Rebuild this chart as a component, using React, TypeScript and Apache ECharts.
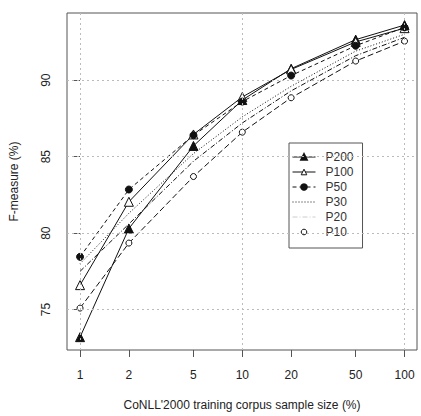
import React, { useEffect, useRef } from 'react';
import * as echarts from 'echarts';

const xPct = [1, 2, 5, 10, 20, 50, 100];
const xGridPct = [1, 10, 100];
const yTicks = [75, 80, 85, 90];

const p200 = [73.2, 80.3, 85.7, 88.7, 90.75, 92.65, 93.6];
const p100 = [76.6, 82.05, 86.45, 88.9, 90.7, 92.5, 93.4];
const p50 = [78.45, 82.85, 86.4, 88.6, 90.3, 92.25, 93.45];
const p30 = [78.0, 81.3, 85.2, 87.6, 89.6, 91.9, 93.0];
const p20 = [77.5, 80.6, 84.7, 87.2, 89.3, 91.6, 92.8];
const p10 = [75.1, 79.35, 83.7, 86.6, 88.85, 91.25, 92.55];

const xTitle = "CoNLL'2000 training corpus sample size (%)";
const yTitle = 'F-measure (%)';

export default function App() {
  const ref = useRef<HTMLDivElement>(null);
  useEffect(() => {
    const chart = echarts.init(ref.current!, null, { renderer: 'svg' });
    const font = "'Liberation Sans', Arial, sans-serif";
    const ink = '#111';
    const toPts = (arr: number[]) => xPct.map((x, i) => [Math.log10(x), arr[i]]);
    const xTickVals = xPct.map((v) => Math.log10(v));
    const mk = (
      name: string,
      arr: number[],
      symbol: string,
      size: number,
      fill: string,
      type: any,
      show = true
    ) => ({
      name,
      type: 'line',
      data: toPts(arr),
      symbol,
      symbolSize: size,
      showSymbol: show,
      lineStyle: { color: ink, width: 1, type },
      itemStyle: { color: fill, borderColor: ink, borderWidth: 1 },
      emphasis: { disabled: true },
      z: 3,
    });
    const openItem = { color: '#fff', borderColor: ink, borderWidth: 1 };
    const option: any = {
      animation: false,
      backgroundColor: '#fff',
      textStyle: { fontFamily: font },
      grid: {
        left: 60,
        top: 13,
        right: 4,
        bottom: 61,
        show: true,
        borderColor: '#555',
        borderWidth: 1,
        backgroundColor: 'transparent',
      },
      xAxis: {
        type: 'value',
        min: -0.0804,
        max: 2.0767,
        axisLine: { show: false },
        splitLine: { show: false },
        axisTick: { show: true, customValues: xTickVals, length: 7, lineStyle: { color: '#555' } },
        axisLabel: {
          customValues: xTickVals,
          formatter: (v: number) => String(Math.round(Math.pow(10, v))),
          margin: 19,
          fontSize: 12,
          color: '#222',
          fontFamily: font,
        },
        name: xTitle,
        nameLocation: 'middle',
        nameGap: 49,
        nameTextStyle: { fontSize: 12, color: '#222', fontFamily: font },
      },
      yAxis: {
        type: 'value',
        min: 72.36,
        max: 94.39,
        axisLine: { show: false },
        splitLine: { show: false },
        axisTick: { show: true, customValues: yTicks, length: 7, lineStyle: { color: '#555' } },
        axisLabel: {
          customValues: yTicks,
          rotate: 90,
          margin: 15,
          fontSize: 12,
          color: '#222',
          fontFamily: font,
        },
        name: yTitle,
        nameLocation: 'middle',
        nameGap: 47,
        nameTextStyle: { fontSize: 12, color: '#222', fontFamily: font },
      },
      legend: {
        orient: 'vertical',
        left: 289,
        top: 143,
        padding: [8, 9, 10, 3],
        itemGap: 3,
        itemWidth: 23,
        itemHeight: 7,
        borderColor: '#555',
        borderWidth: 1,
        backgroundColor: '#fff',
        lineStyle: { width: 1, type: 'inherit' },
        textStyle: { fontSize: 12, color: '#333', fontFamily: font, padding: [0, 0, 0, 5] },
        data: [
          { name: 'P200' },
          { name: 'P100', itemStyle: openItem },
          { name: 'P50' },
          { name: 'P30', itemStyle: { opacity: 0 } },
          { name: 'P20', itemStyle: { opacity: 0 }, lineStyle: { color: '#ccc', width: 1 } },
          { name: 'P10', itemStyle: openItem, lineStyle: { opacity: 0 } },
        ],
      },
      series: [
        {
          name: 'grid',
          type: 'line',
          data: [],
          silent: true,
          z: 1,
          markLine: {
            silent: true,
            symbol: ['none', 'none'],
            label: { show: false },
            emphasis: { disabled: true },
            lineStyle: { type: [2, 3], color: '#bbb', width: 1 },
            data: [
              ...xGridPct.map((v) => ({ xAxis: Math.log10(v) })),
              ...yTicks.map((v) => ({ yAxis: v })),
            ],
          },
        },
        mk('P200', p200, 'triangle', 9, ink, 'solid'),
        mk('P100', p100, 'triangle', 9, '#fff', 'solid'),
        mk('P50', p50, 'circle', 7, ink, [4, 3]),
        mk('P30', p30, 'circle', 0, ink, [1, 2], false),
        mk('P20', p20, 'circle', 0, ink, [5, 2, 1, 2], false),
        mk('P10', p10, 'circle', 6, '#fff', [6, 3]),
      ],
    };
    chart.setOption(option);
    return () => chart.dispose();
  }, []);
  return (
    <div
      ref={ref}
      style={{ position: 'fixed', left: 0, top: 0, width: 421, height: 416, background: '#fff' }}
    />
  );
}
